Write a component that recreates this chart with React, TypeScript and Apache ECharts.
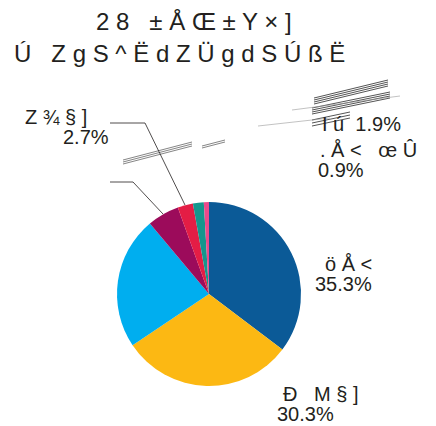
import React, { useEffect, useRef } from "react";
import * as echarts from "echarts";

const titleLines = ["2 8   ± Å Œ ± Y × ]", "Ú   Z g S ^ Ë d Z Ü g d S Ú ß Ë"];
const categories = ["ö Å <", "Ð   M § ]", "", "", "Z ¾ § ]", "I ú", ". Å <   œ Û"];
const values = [35.3, 30.3, 23.3, 5.6, 2.7, 1.9, 0.9];
const colors = ["#0b5a97", "#fcb813", "#00aeef", "#9c0b5b", "#e41d45", "#14968d", "#eb4a8b"];

type LP = { x: number; y: number; p1: number; p2: number; single?: boolean; line?: number[][]; blank?: boolean } | null;
const labelPos: LP[] = [
  { x: 315, y: 254, p1: 10, p2: 0 },
  { x: 277, y: 384, p1: 6, p2: 0 },
  null,
  { x: 110, y: 175, p1: 0, p2: 0, blank: true, line: [[163, 214], [133, 182], [110, 182]] },
  { x: 25, y: 107, p1: 0, p2: 38, line: [[185, 205], [145, 123], [110, 123]] },
  { x: 322, y: 114, p1: 0, p2: 0, single: true },
  { x: 318, y: 140, p1: 2, p2: 0 },
];

const FONT = "Liberation Sans, Arial, sans-serif";
const TXT = "#231f20";

function scribbles() {
  const els: any[] = [];
  const seg = (x1: number, y1: number, x2: number, y2: number, w = 0.8, c = "#666") =>
    els.push({ type: "line", shape: { x1, y1, x2, y2 }, style: { stroke: c, lineWidth: w }, silent: true });
  [-2, 0, 2].forEach((o) => seg(123, 162 + o, 192, 144 + o));
  [-1, 1].forEach((o) => seg(202, 147 + o, 225, 141 + o));
  [0, 2, 4, 6].forEach((o) => seg(314, 98 + o, 388, 80 + o, 1, "#555"));
  [0, 2, 4, 6].forEach((o) => seg(312, 108 + o, 390, 92 + o, 1, "#555"));
  [0, 3, 6].forEach((o) => seg(312, 120 + o, 350, 112 + o, 1, "#555"));
  seg(292, 110, 400, 96, 0.6, "#999");
  seg(258, 126, 330, 118, 0.6, "#999");
  return els;
}

export default function App() {
  const ref = useRef<HTMLDivElement>(null);
  useEffect(() => {
    if (!ref.current) return;
    const chart = echarts.init(ref.current, null, { renderer: "svg" });
    const richFor = (p1: number, p2: number) => ({
      a: { fontFamily: FONT, fontSize: 20, color: TXT, lineHeight: 20, padding: [0, 0, 0, p1] },
      b: { fontFamily: FONT, fontSize: 20, color: TXT, lineHeight: 20, padding: [0, 0, 0, p2] },
    });
    const data = values.map((v, i) => {
      const L = labelPos[i];
      return {
        name: categories[i] || "s" + i,
        value: v,
        itemStyle: { color: colors[i] },
        label: L ? { show: true, rich: richFor(L.p1, L.p2) } : { show: false },
        labelLine: { show: !!(L && L.line) },
      };
    });
    chart.setOption({
      animation: false,
      backgroundColor: "#ffffff",
      title: [
        { text: titleLines[0], left: 96, top: 9, padding: 0, textStyle: { fontSize: 24, fontWeight: "normal", color: TXT, fontFamily: FONT } },
        { text: titleLines[1], left: 14, top: 41, padding: 0, textStyle: { fontSize: 24, fontWeight: "normal", color: TXT, fontFamily: FONT } },
      ],
      graphic: scribbles(),
      series: [
        {
          type: "pie",
          center: [209, 294],
          radius: 92,
          startAngle: 90,
          clockwise: true,
          data,
          label: {
            show: true,
            position: "outside",
            overflow: "none",
            width: 200,
            fontFamily: FONT,
            fontSize: 20,
            color: TXT,
            lineHeight: 20,
            formatter: (p: any) => {
              const i = p.dataIndex;
              const L = labelPos[i];
              if (!L) return "";
              if (L.blank) return " ";
              const pct = values[i].toFixed(1) + "%";
              if (L.single) return "{a|" + categories[i] + "  " + pct + "}";
              return "{a|" + categories[i] + "}\n{b|" + pct + "}";
            },
          },
          labelLine: { lineStyle: { color: "#231f20", width: 0.8 } },
          labelLayout: (params: any) => {
            const L = labelPos[params.dataIndex];
            if (!L) return {};
            const o: any = { x: L.x, y: L.y, align: "left", verticalAlign: "top" };
            if (L.line) o.labelLinePoints = L.line;
            return o;
          },
        },
      ],
    });
    return () => chart.dispose();
  }, []);
  return <div ref={ref} style={{ position: "fixed", left: 0, top: 0, width: 436, height: 426 }} />;
}
